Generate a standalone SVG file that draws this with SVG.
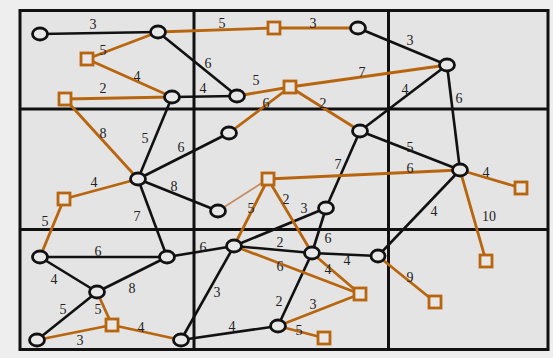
<svg xmlns="http://www.w3.org/2000/svg" width="553" height="358" viewBox="0 0 553 358">
<style>
.bg{fill:#eeeeee}
.frame{fill:#e4e4e4;stroke:#111;stroke-width:3}
.grid{stroke:#111;stroke-width:3}
.k{stroke:#111;stroke-width:2.6;fill:none}
.o{stroke:#b8650e;stroke-width:2.8;fill:none}
.ot{stroke:#c48a5e;stroke-width:1.6;fill:none}
.c{fill:#e8e8e8;stroke:#111;stroke-width:2.8}
.s{fill:#e8e8e8;stroke:#b8650e;stroke-width:2.8}
text{font-family:"Liberation Serif","Times New Roman",serif;font-size:14px;fill:#222;text-anchor:middle;dominant-baseline:central}
</style>
<rect class="bg" x="0" y="0" width="553" height="358"/>
<rect class="frame" x="20" y="10.5" width="528" height="339"/>
<g id="grid">
<line class="grid" x1="194" y1="10" x2="194" y2="350"/>
<line class="grid" x1="388.5" y1="10" x2="388.5" y2="350"/>
<line class="grid" x1="20" y1="109" x2="548" y2="109"/>
<line class="grid" x1="20" y1="229.5" x2="548" y2="229.5"/>
</g>
<g id="connectors">
<line class="k" x1="40" y1="34" x2="158" y2="32"/>
<line class="k" x1="158" y1="32" x2="237" y2="96"/>
<line class="k" x1="172" y1="97" x2="237" y2="96"/>
<line class="k" x1="358" y1="28" x2="447" y2="65"/>
<line class="k" x1="447" y1="65" x2="360" y2="131"/>
<line class="k" x1="447" y1="65" x2="460" y2="170"/>
<line class="k" x1="360" y1="131" x2="460" y2="170"/>
<line class="k" x1="360" y1="131" x2="326" y2="208"/>
<line class="k" x1="172" y1="97" x2="138" y2="179"/>
<line class="k" x1="138" y1="179" x2="229" y2="133"/>
<line class="k" x1="138" y1="179" x2="218" y2="211"/>
<line class="k" x1="138" y1="179" x2="167" y2="257"/>
<line class="k" x1="460" y1="170" x2="378" y2="256"/>
<line class="k" x1="326" y1="208" x2="234" y2="246"/>
<line class="k" x1="326" y1="208" x2="312" y2="253"/>
<line class="k" x1="234" y1="246" x2="312" y2="253"/>
<line class="k" x1="312" y1="253" x2="378" y2="256"/>
<line class="k" x1="167" y1="257" x2="234" y2="246"/>
<line class="k" x1="40" y1="257" x2="167" y2="257"/>
<line class="k" x1="40" y1="257" x2="97" y2="292"/>
<line class="k" x1="167" y1="257" x2="97" y2="292"/>
<line class="k" x1="97" y1="292" x2="37" y2="340"/>
<line class="k" x1="234" y1="246" x2="181" y2="340"/>
<line class="k" x1="181" y1="340" x2="278" y2="326"/>
<line class="k" x1="278" y1="326" x2="312" y2="253"/>
<line class="o" x1="158" y1="32" x2="274" y2="28"/>
<line class="o" x1="274" y1="28" x2="358" y2="28"/>
<line class="o" x1="158" y1="32" x2="87" y2="59"/>
<line class="o" x1="87" y1="59" x2="172" y2="97"/>
<line class="o" x1="65" y1="99" x2="172" y2="97"/>
<line class="o" x1="237" y1="96" x2="290" y2="87"/>
<line class="o" x1="290" y1="87" x2="447" y2="65"/>
<line class="o" x1="290" y1="87" x2="229" y2="133"/>
<line class="o" x1="290" y1="87" x2="360" y2="131"/>
<line class="o" x1="65" y1="99" x2="138" y2="179"/>
<line class="o" x1="138" y1="179" x2="64" y2="199"/>
<line class="o" x1="64" y1="199" x2="40" y2="257"/>
<line class="o" x1="268" y1="179" x2="460" y2="170"/>
<line class="ot" x1="218" y1="211" x2="268" y2="179"/>
<line class="o" x1="268" y1="179" x2="234" y2="246"/>
<line class="o" x1="268" y1="179" x2="312" y2="253"/>
<line class="o" x1="312" y1="253" x2="360" y2="294"/>
<line class="o" x1="234" y1="246" x2="360" y2="294"/>
<line class="o" x1="278" y1="326" x2="360" y2="294"/>
<line class="o" x1="278" y1="326" x2="324" y2="338"/>
<line class="o" x1="460" y1="170" x2="521" y2="188"/>
<line class="o" x1="460" y1="170" x2="486" y2="261"/>
<line class="o" x1="378" y1="256" x2="435" y2="302"/>
<line class="o" x1="97" y1="292" x2="112" y2="325"/>
<line class="o" x1="37" y1="340" x2="112" y2="325"/>
<line class="o" x1="112" y1="325" x2="181" y2="340"/>
</g>
<g id="labels">
<text x="93" y="24">3</text>
<text x="103" y="50">5</text>
<text x="137" y="76">4</text>
<text x="103" y="88">2</text>
<text x="222" y="23">5</text>
<text x="313" y="23">3</text>
<text x="208" y="63">6</text>
<text x="256" y="80">5</text>
<text x="362" y="72">7</text>
<text x="203" y="88">4</text>
<text x="266" y="103">6</text>
<text x="323" y="103">2</text>
<text x="410" y="40">3</text>
<text x="405" y="89">4</text>
<text x="459" y="98">6</text>
<text x="103" y="133">8</text>
<text x="145" y="138">5</text>
<text x="181" y="147">6</text>
<text x="94" y="182">4</text>
<text x="174" y="186">8</text>
<text x="45" y="221">5</text>
<text x="137" y="216">7</text>
<text x="338" y="164">7</text>
<text x="286" y="199">2</text>
<text x="251" y="208">5</text>
<text x="304" y="208">3</text>
<text x="410" y="147">5</text>
<text x="410" y="168">6</text>
<text x="486" y="172">4</text>
<text x="434" y="211">4</text>
<text x="489" y="216">10</text>
<text x="98" y="251">6</text>
<text x="54" y="279">4</text>
<text x="132" y="288">8</text>
<text x="63" y="309">5</text>
<text x="98" y="309">5</text>
<text x="141" y="327">4</text>
<text x="80" y="340">3</text>
<text x="203" y="247">6</text>
<text x="280" y="242">2</text>
<text x="328" y="238">6</text>
<text x="347" y="260">4</text>
<text x="280" y="266">6</text>
<text x="328" y="269">4</text>
<text x="217" y="292">3</text>
<text x="279" y="301">2</text>
<text x="313" y="304">3</text>
<text x="232" y="326">4</text>
<text x="299" y="330">5</text>
<text x="410" y="277">9</text>
</g>
<g id="nodes">
<g id="nA"><ellipse class="c" cx="40" cy="34" rx="7.5" ry="6"/></g>
<g id="nB"><ellipse class="c" cx="158" cy="32" rx="7.5" ry="6"/></g>
<g id="nC"><rect class="s" x="81" y="53" width="12" height="12"/></g>
<g id="nD"><ellipse class="c" cx="172" cy="97" rx="7.5" ry="6"/></g>
<g id="nE"><rect class="s" x="59" y="93" width="12" height="12"/></g>
<g id="nF"><rect class="s" x="268" y="22" width="12" height="12"/></g>
<g id="nG"><ellipse class="c" cx="358" cy="28" rx="7.5" ry="6"/></g>
<g id="nH"><ellipse class="c" cx="237" cy="96" rx="7.5" ry="6"/></g>
<g id="nI"><rect class="s" x="284" y="81" width="12" height="12"/></g>
<g id="nJ"><ellipse class="c" cx="447" cy="65" rx="7.5" ry="6"/></g>
<g id="nK"><ellipse class="c" cx="360" cy="131" rx="7.5" ry="6"/></g>
<g id="nL"><ellipse class="c" cx="229" cy="133" rx="7.5" ry="6"/></g>
<g id="nM"><ellipse class="c" cx="138" cy="179" rx="7.5" ry="6"/></g>
<g id="nN"><rect class="s" x="58" y="193" width="12" height="12"/></g>
<g id="nO"><ellipse class="c" cx="218" cy="211" rx="7.5" ry="6"/></g>
<g id="nP"><rect class="s" x="262" y="173" width="12" height="12"/></g>
<g id="nQ"><ellipse class="c" cx="326" cy="208" rx="7.5" ry="6"/></g>
<g id="nR"><ellipse class="c" cx="460" cy="170" rx="7.5" ry="6"/></g>
<g id="nS"><rect class="s" x="515" y="182" width="12" height="12"/></g>
<g id="nT"><rect class="s" x="480" y="255" width="12" height="12"/></g>
<g id="nU"><ellipse class="c" cx="378" cy="256" rx="7" ry="6"/></g>
<g id="nV"><rect class="s" x="429" y="296" width="12" height="12"/></g>
<g id="nW"><ellipse class="c" cx="40" cy="257" rx="7.5" ry="6"/></g>
<g id="nX"><ellipse class="c" cx="167" cy="257" rx="7.5" ry="6"/></g>
<g id="nY"><ellipse class="c" cx="97" cy="292" rx="7.5" ry="6"/></g>
<g id="nZ"><rect class="s" x="106" y="319" width="12" height="12"/></g>
<g id="nAA"><ellipse class="c" cx="37" cy="340" rx="7.5" ry="6"/></g>
<g id="nAB"><ellipse class="c" cx="181" cy="340" rx="7.5" ry="6"/></g>
<g id="nAC"><ellipse class="c" cx="234" cy="246" rx="7.5" ry="6"/></g>
<g id="nAD"><ellipse class="c" cx="312" cy="253" rx="7.5" ry="6"/></g>
<g id="nAE"><rect class="s" x="354" y="288" width="12" height="12"/></g>
<g id="nAF"><ellipse class="c" cx="278" cy="326" rx="7.5" ry="6"/></g>
<g id="nAG"><rect class="s" x="318" y="332" width="12" height="12"/></g>
</g>
</svg>
